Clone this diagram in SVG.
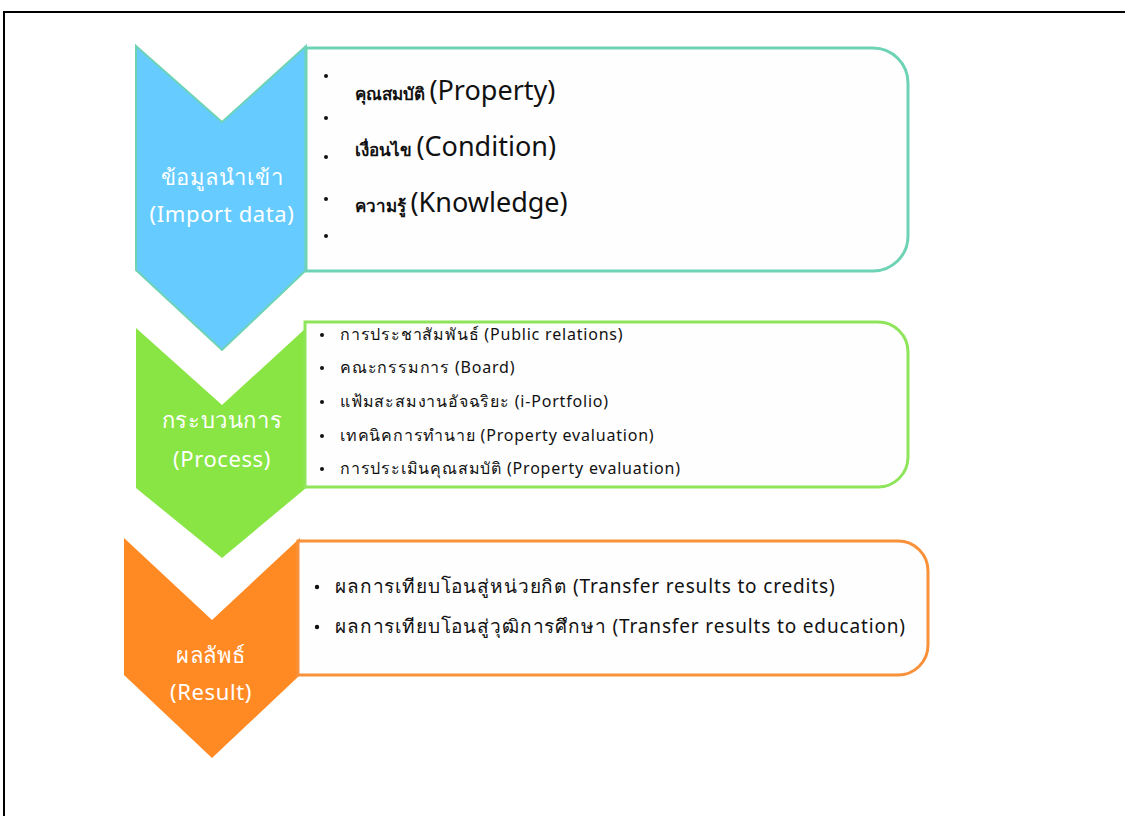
<svg xmlns="http://www.w3.org/2000/svg" width="1125" height="816" viewBox="0 0 1125 816">
<style>
.lbl{font-family:"Noto Sans","DejaVu Sans","Liberation Sans",sans-serif;fill:#ffffff;font-size:22px;letter-spacing:0.6px;text-anchor:middle}
.t{font-family:"Noto Sans","DejaVu Sans","Liberation Sans",sans-serif;fill:#111111}
.b1{font-size:17px;font-weight:bold}
.e1{font-size:27px}
.t2{font-size:16px;letter-spacing:0.8px}
.t3{font-size:19px;letter-spacing:0.85px}
.box{fill:#fefefe;stroke-width:3}
</style>
<rect x="4" y="12" width="1140" height="820" fill="#ffffff" stroke="#000000" stroke-width="2"/>
<g id="connectors"></g>
<g id="import">
<polygon points="136,46 222,122 306,46 306,270 222,350 136,270" fill="#66CCFF" stroke="#6DD3B4" stroke-width="2"/>
<path class="box" d="M306,48 H873 A35,35 0 0 1 908,83 V236 A35,35 0 0 1 873,271 H306 Z" stroke="#6DD3B4"/>
<text class="lbl" x="222" y="185">ข้อมูลนำเข้า</text>
<text class="lbl" x="222" y="222">(Import data)</text>
<g class="t">
<circle cx="326" cy="76" r="2"/><circle cx="326" cy="118" r="2"/><circle cx="326" cy="157" r="2"/><circle cx="326" cy="199" r="2"/><circle cx="326" cy="236" r="2"/>
<text x="355" y="100"><tspan class="b1">คุณสมบัติ </tspan><tspan class="e1">(Property)</tspan></text>
<text x="355" y="156"><tspan class="b1">เงื่อนไข </tspan><tspan class="e1">(Condition)</tspan></text>
<text x="355" y="212"><tspan class="b1">ความรู้ </tspan><tspan class="e1">(Knowledge)</tspan></text>
</g>
</g>
<g id="process">
<polygon points="136,328 222,405 306,328 306,488 222,558 136,488" fill="#88E544"/>
<path class="box" d="M305,322 H878 A30,30 0 0 1 908,352 V457 A30,30 0 0 1 878,487 H305 Z" stroke="#8EE55A"/>
<text class="lbl" x="222" y="428">กระบวนการ</text>
<text class="lbl" x="222" y="467">(Process)</text>
<g class="t t2">
<circle cx="322" cy="335" r="2"/><circle cx="322" cy="368" r="2"/><circle cx="322" cy="402" r="2"/><circle cx="322" cy="436" r="2"/><circle cx="322" cy="469" r="2"/>
<text x="340" y="340">การประชาสัมพันธ์ (Public relations)</text>
<text x="340" y="373">คณะกรรมการ (Board)</text>
<text x="340" y="407">แฟ้มสะสมงานอัจฉริยะ (i-Portfolio)</text>
<text x="340" y="441">เทคนิคการทำนาย (Property evaluation)</text>
<text x="340" y="474">การประเมินคุณสมบัติ (Property evaluation)</text>
</g>
</g>
<g id="result">
<polygon points="124,538 212,620 300,538 300,675 212,758 124,675" fill="#FF8A24"/>
<path class="box" d="M298,541 H898 A30,30 0 0 1 928,571 V645 A30,30 0 0 1 898,675 H298 Z" stroke="#F8913A"/>
<text class="lbl" x="211" y="663">ผลลัพธ์</text>
<text class="lbl" x="211" y="700">(Result)</text>
<g class="t t3">
<circle cx="317" cy="587" r="2.2"/><circle cx="317" cy="627" r="2.2"/>
<text x="335" y="593">ผลการเทียบโอนสู่หน่วยกิต (Transfer results to credits)</text>
<text x="335" y="633">ผลการเทียบโอนสู่วุฒิการศึกษา (Transfer results to education)</text>
</g>
</g>
</svg>
